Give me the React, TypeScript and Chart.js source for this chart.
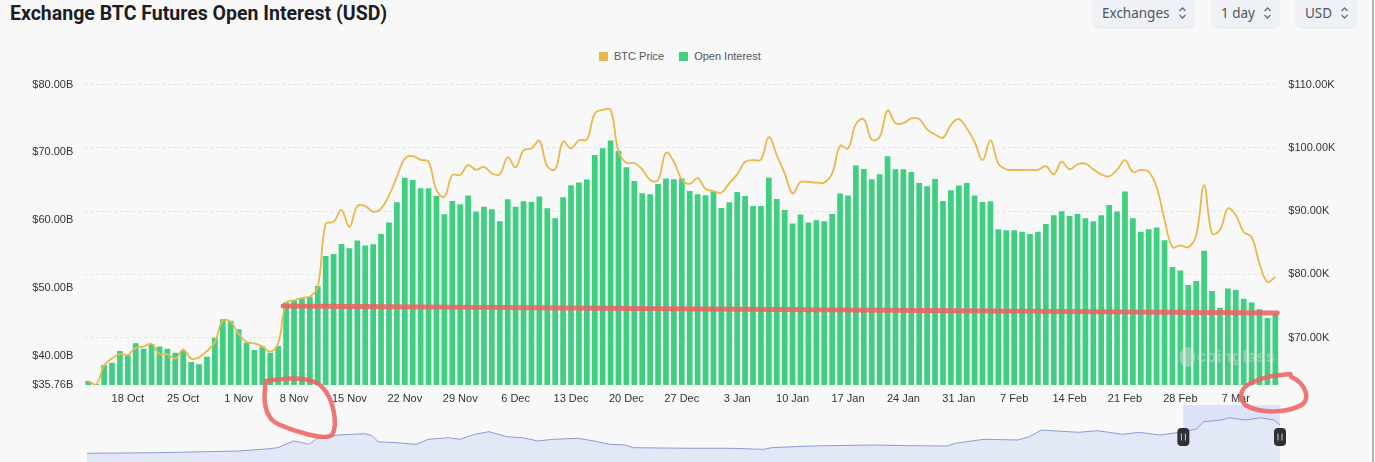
import React, { useEffect, useRef } from "react";
import { Chart, registerables } from "chart.js";

Chart.register(...registerables);

// ---------- data ----------
const FIRST_DAY = [2024, 9, 13]; // 13 Oct 2024
const DAY_COUNT = 151;
const MONTHS = ["Jan", "Feb", "Mar", "Apr", "May", "Jun", "Jul", "Aug", "Sep", "Oct", "Nov", "Dec"];

const OPEN_INTEREST_B = [
  36.35, 35.9, 38.71, 39.05, 40.77, 40.13, 41.9, 41.11, 41.8, 41.41,
  41.11, 40.52, 40.82, 39.15, 38.8, 39.93, 42.73, 45.43, 45.23, 43.96,
  41.99, 40.91, 41.41, 40.52, 41.5, 47.89, 48.18, 48.52, 48.77, 50.34,
  54.76, 55.05, 56.53, 55.89, 57.02, 56.28, 56.48, 58.0, 59.67, 62.66,
  66.29, 65.95, 64.72, 64.72, 63.6, 60.89, 62.86, 62.37, 63.65, 61.29,
  62.02, 61.63, 59.86, 63.1, 62.02, 62.81, 62.71, 63.5, 61.78, 60.31,
  63.4, 65.17, 65.56, 66.0, 69.63, 70.61, 71.74, 70.22, 67.82, 65.8,
  63.99, 63.84, 65.36, 66.15, 66.05, 66.15, 64.33, 63.84, 63.7, 64.23,
  61.83, 62.66, 64.18, 63.6, 62.12, 62.12, 66.29, 63.15, 61.53, 59.52,
  60.85, 59.67, 60.01, 59.86, 60.94, 63.94, 63.65, 68.06, 67.57, 66.05,
  66.79, 69.44, 67.52, 67.52, 67.13, 65.51, 65.02, 66.1, 62.86, 64.43,
  65.12, 65.51, 63.65, 62.71, 62.81, 58.68, 58.54, 58.54, 58.34, 58.0,
  58.34, 59.47, 60.75, 61.34, 60.65, 60.94, 60.31, 59.86, 60.75, 62.27,
  61.29, 64.23, 60.31, 58.34, 58.68, 58.93, 57.06, 53.14, 52.6, 50.49,
  51.08, 55.54, 49.6, 47.15, 49.95, 49.75, 48.47, 47.89, 46.9, 45.63,
  46.22,
];

const BTC_PRICE_K = [
  63.1, 62.6, 65.6, 66.7, 67.4, 67.3, 68.4, 68.6, 69.0, 67.4,
  67.4, 66.7, 68.1, 66.7, 66.9, 67.9, 69.3, 72.7, 72.5, 70.6,
  69.3, 69.1, 68.6, 67.8, 69.1, 75.5, 75.9, 76.3, 76.5, 78.0,
  88.0, 88.3, 90.2, 87.5, 90.8, 90.8, 89.9, 90.4, 92.5, 95.4,
  98.3, 98.7, 98.1, 97.8, 93.3, 92.25, 95.7, 95.7, 97.3, 96.5,
  97.0, 95.95, 95.8, 98.5, 96.9, 99.6, 99.9, 101.1, 97.1, 96.6,
  101.0, 99.9, 101.2, 101.3, 105.4, 106.0, 106.0, 99.4, 97.6, 97.6,
  96.6, 94.9, 94.9, 99.2, 97.8, 95.0, 94.3, 95.2, 93.5, 93.15,
  92.9, 94.4, 95.8, 97.8, 98.05, 98.15, 101.7, 98.85, 95.95, 92.8,
  94.6, 94.6, 94.5, 94.5, 95.95, 100.3, 99.9, 103.75, 104.5, 101.3,
  101.7, 105.9, 103.9, 103.9, 104.65, 104.55, 102.9, 102.1, 101.6, 103.6,
  104.55, 103.1, 100.95, 98.05, 101.2, 97.5, 96.6, 96.5, 96.5, 96.5,
  96.5, 97.1, 95.8, 97.8, 96.6, 97.4, 97.5, 96.6, 95.8, 95.5,
  96.5, 98.05, 96.2, 96.5, 96.2, 93.8, 88.6, 84.3, 84.6, 84.3,
  86.2, 94.1, 86.5, 87.0, 90.4, 89.4, 86.7, 85.9, 81.7, 78.8,
  79.6,
];

const OI_TICKS = [35.76, 40, 50, 60, 70, 80];
const PRICE_TICKS = [70, 80, 90, 100, 110];
const OI_RANGE = [35.76, 80];
const PRICE_RANGE = [62.53, 110];
const X_TICK_FIRST = 5; // 18 Oct
const X_TICK_STEP = 7;

// navigator (whole-history overview): position in % of range, and level
const NAV_POS = [
  0, 6.0, 12.7, 15.0, 16.0, 17.3, 17.9, 18.6, 19.3, 21.0,
  22.3, 23.3, 23.9, 24.4, 25.9, 27.6, 28.6, 30.3, 31.3, 32.5,
  33.7, 35.2, 36.5, 37.8, 39.1, 41.2, 42.5, 43.8, 45.1, 45.8,
  50.5, 54.0, 56.7, 57.4, 60.1, 61.9, 66.0, 69.0, 72.1, 72.8,
  75.2, 78.0, 79.0, 80.0, 81.3, 83.1, 84.7, 86.8, 88.2, 89.9,
  91.6, 93.0, 93.6, 95.1, 95.7, 97.1, 98.4, 99.5, 100,
];
const NAV_LEVELS = [
  8.7, 9.3, 11, 13, 14.3, 21, 19.7, 17.7, 23.7, 27,
  27.7, 28.3, 26.3, 20.3, 19.3, 17.7, 22.7, 24.3, 22.7, 27.7,
  30.3, 25.3, 24.3, 21, 22.7, 23.7, 21, 17.7, 17, 14.3,
  13.7, 13.7, 12.7, 14.3, 15.7, 16.3, 17, 16.3, 16, 18.7,
  22.7, 22, 25.3, 32, 31, 29.7, 31.3, 27.7, 29.7, 27,
  29.7, 33, 40.3, 42, 44.3, 42, 44.3, 42, 37,
];
const NAV_WINDOW = [91.9, 100];

// hand-drawn annotation line (OI level, start index -> end)
const MARK_LINE_OI = [47.4, 46.35];
const MARK_LINE_FROM = 25;

const GREEN = "#3fcf80";
const GOLD = "#e8b84a";
const AXIS_FONT = "'Liberation Sans', Arial, sans-serif";

function makeLabels(): string[] {
  const out: string[] = [];
  for (let i = 0; i < DAY_COUNT; i++) {
    const d = new Date(FIRST_DAY[0], FIRST_DAY[1], FIRST_DAY[2] + i);
    out.push(`${d.getDate()} ${MONTHS[d.getMonth()]}`);
  }
  return out;
}
const DATES = makeLabels();

// ---------- plugins ----------
const annotationPlugin = {
  id: "handMarks",
  afterDatasetsDraw(chart: any) {
    const { ctx, chartArea } = chart;
    // watermark
    ctx.save();
    ctx.fillStyle = "rgba(215,215,215,0.5)";
    ctx.font = "bold 17px 'Liberation Sans', Arial, sans-serif";
    ctx.textBaseline = "middle";
    ctx.textAlign = "right";
    const wx = chartArea.right - 4;
    const wy = chartArea.bottom - 28;
    ctx.fillText("coinglass", wx, wy);
    ctx.beginPath();
    ctx.ellipse(wx - 88, wy, 8, 10, 0, 0, Math.PI * 2);
    ctx.fill();
    ctx.restore();
  },
  afterDraw(chart: any) {
    const { ctx, chartArea } = chart;
    const x = chart.scales.x;
    const y = chart.scales.yOI;
    ctx.save();
    ctx.strokeStyle = "rgba(238,98,98,0.88)";
    ctx.lineCap = "round";
    ctx.lineJoin = "round";
    // horizontal line
    ctx.lineWidth = 5;
    const last = DAY_COUNT - 1;
    const x0 = x.getPixelForValue(MARK_LINE_FROM) - 3;
    const x1 = x.getPixelForValue(last) + 2;
    ctx.beginPath();
    ctx.moveTo(x0, y.getPixelForValue(MARK_LINE_OI[0]));
    ctx.lineTo(x1, y.getPixelForValue(MARK_LINE_OI[1]));
    ctx.stroke();
    // loop round "8 Nov"
    const b = chartArea.bottom;
    const cx = x.getPixelForValue(MARK_LINE_FROM + 1);
    ctx.lineWidth = 4.5;
    ctx.beginPath();
    ctx.moveTo(cx - 28, b - 4);
    ctx.bezierCurveTo(cx - 5, b - 8, cx + 20, b - 8, cx + 28, b + 2);
    ctx.bezierCurveTo(cx + 40, b + 14, cx + 44, b + 40, cx + 38, b + 50);
    ctx.bezierCurveTo(cx + 30, b + 56, cx + 0, b + 46, cx - 14, b + 40);
    ctx.bezierCurveTo(cx - 31, b + 34, cx - 31, b + 12, cx - 28, b - 4);
    ctx.stroke();
    // loop at the end
    const ex = x.getPixelForValue(last);
    ctx.beginPath();
    ctx.moveTo(ex - 24, b - 2);
    ctx.bezierCurveTo(ex - 10, b - 10, ex + 5, b - 10, ex + 15, b - 11);
    ctx.lineTo(ex + 16, b - 8);
    ctx.bezierCurveTo(ex + 30, b - 2, ex + 36, b + 14, ex + 26, b + 20);
    ctx.bezierCurveTo(ex + 14, b + 27, ex - 14, b + 30, ex - 30, b + 20);
    ctx.bezierCurveTo(ex - 38, b + 12, ex - 34, b + 2, ex - 24, b - 2);
    ctx.stroke();
    ctx.restore();
  },
};

const navPlugin = {
  id: "navWindow",
  beforeDatasetsDraw(chart: any) {
    const { ctx } = chart;
    const x = chart.scales.x;
    ctx.save();
    ctx.fillStyle = "rgba(196,208,250,0.55)";
    const a = x.getPixelForValue(NAV_WINDOW[0]);
    const c = x.getPixelForValue(NAV_WINDOW[1]);
    ctx.fillRect(a, 0, c - a, chart.height);
    ctx.restore();
  },
  afterDatasetsDraw(chart: any) {
    const { ctx } = chart;
    const x = chart.scales.x;
    ctx.save();
    for (const v of NAV_WINDOW) {
      const px = x.getPixelForValue(v);
      const py = 32;
      ctx.fillStyle = "#2e3036";
      ctx.beginPath();
      (ctx as any).roundRect(px - 6, py - 9, 12, 18, 4);
      ctx.fill();
      ctx.fillStyle = "#c8c8c8";
      ctx.fillRect(px - 2.5, py - 3.5, 1, 7);
      ctx.fillRect(px + 1.5, py - 3.5, 1, 7);
    }
    ctx.restore();
  },
};

// ---------- component ----------
function Chevron() {
  return (
    <svg width="9" height="14" viewBox="0 0 9 14" style={{ marginLeft: 8 }}>
      <path d="M1.5 5 L4.5 2 L7.5 5" fill="none" stroke="#6b7078" strokeWidth="1.3" />
      <path d="M1.5 9 L4.5 12 L7.5 9" fill="none" stroke="#6b7078" strokeWidth="1.3" />
    </svg>
  );
}

function Selector({ left, width, text }: { left: number; width: number; text: string }) {
  return (
    <div
      style={{
        position: "absolute",
        left,
        top: -4,
        width,
        height: 31,
        background: "#eef1f5",
        borderRadius: 6,
        boxShadow: "0 1px 2px rgba(0,0,0,0.08)",
        display: "flex",
        alignItems: "center",
        paddingTop: 2,
        boxSizing: "border-box",
        paddingLeft: 9,
        fontFamily: "'Noto Sans', sans-serif",
        fontSize: 13.5,
        color: "#50555d",
      }}
    >
      <span>{text}</span>
      <Chevron />
    </div>
  );
}

export default function App() {
  const mainRef = useRef<HTMLCanvasElement>(null);
  const navRef = useRef<HTMLCanvasElement>(null);

  useEffect(() => {
    const main = new Chart(mainRef.current as HTMLCanvasElement, {
      type: "bar",
      data: {
        labels: DATES,
        datasets: [
          {
            type: "line",
            label: "BTC Price",
            data: BTC_PRICE_K,
            yAxisID: "yPrice",
            borderColor: GOLD,
            backgroundColor: GOLD,
            borderWidth: 1.8,
            pointRadius: 0,
            tension: 0.4,
            order: 0,
          } as any,
          {
            type: "bar",
            label: "Open Interest",
            data: OPEN_INTEREST_B,
            yAxisID: "yOI",
            backgroundColor: GREEN,
            categoryPercentage: 1,
            barPercentage: 0.72,
            order: 1,
          } as any,
        ],
      },
      options: {
        animation: false,
        responsive: false,
        devicePixelRatio: 1,
        layout: { padding: { top: 84.5, bottom: 50, left: 0, right: 0 } },
        plugins: { legend: { display: false }, tooltip: { enabled: false } },
        scales: {
          x: {
            grid: { display: false, drawTicks: false },
            border: { display: false },
            ticks: {
              autoSkip: false,
              maxRotation: 0,
              minRotation: 0,
              padding: 7,
              color: "#333",
              font: { size: 11, family: AXIS_FONT },
              callback: function (this: any, value: any, index: number) {
                return index >= X_TICK_FIRST && (index - X_TICK_FIRST) % X_TICK_STEP === 0
                  ? this.getLabelForValue(value)
                  : "";
              },
            },
            afterFit: (s: any) => {
              s.height = 27;
            },
          },
          yOI: {
            position: "left",
            min: OI_RANGE[0],
            max: OI_RANGE[1],
            grid: { display: false, drawTicks: false },
            border: { display: false },
            ticks: {
              padding: 11,
              color: "#333",
              font: { size: 11, family: AXIS_FONT },
              callback: (v: any) => "$" + Number(v).toFixed(2) + "B",
            },
            afterBuildTicks: (axis: any) => {
              axis.ticks = OI_TICKS.map((v) => ({ value: v }));
            },
            afterFit: (s: any) => {
              s.width = 84.3;
            },
          },
          yPrice: {
            position: "right",
            min: PRICE_RANGE[0],
            max: PRICE_RANGE[1],
            grid: { color: "#e3e3e3", drawTicks: false, lineWidth: 1 },
            border: { display: false, dash: [3, 3] },
            ticks: {
              padding: 9,
              color: "#333",
              font: { size: 11, family: AXIS_FONT },
              callback: (v: any) => "$" + Number(v).toFixed(2) + "K",
            },
            afterBuildTicks: (axis: any) => {
              axis.ticks = PRICE_TICKS.map((v) => ({ value: v }));
            },
            afterFit: (s: any) => {
              s.width = 95.7;
            },
          },
        },
      },
      plugins: [annotationPlugin],
    });

    const nav = new Chart(navRef.current as HTMLCanvasElement, {
      type: "line",
      data: {
        datasets: [
          {
            data: NAV_LEVELS.map((v, i) => ({ x: NAV_POS[i], y: v })),
            borderColor: "#8b9ad8",
            borderWidth: 1,
            backgroundColor: "#e3e8f6",
            fill: "start",
            pointRadius: 0,
            tension: 0,
          },
        ],
      },
      options: {
        animation: false,
        responsive: false,
        devicePixelRatio: 1,
        layout: { padding: { left: 7, right: 10, top: 0, bottom: 0 } },
        plugins: { legend: { display: false }, tooltip: { enabled: false } },
        scales: {
          x: { type: "linear", display: false, min: 0, max: 100 },
          y: { display: false, min: 0, max: 57 },
        },
      },
      plugins: [navPlugin],
    });

    return () => {
      main.destroy();
      nav.destroy();
    };
  }, []);

  return (
    <div
      style={{
        position: "absolute",
        left: 0,
        top: 0,
        width: 1375,
        height: 462,
        background: "#ffffff",
        overflow: "hidden",
      }}
    >
      <div style={{ position: "absolute", left: 0, top: 0, width: 1372, height: 462, background: "#f8f8f8" }} />
      <div style={{ position: "absolute", left: 1372, top: 0, width: 2, height: 462, background: "#b4b4b4" }} />
      <div
        style={{
          position: "absolute",
          left: 10,
          top: 0,
          fontFamily: "Roboto, 'Noto Sans', sans-serif",
          fontWeight: 700,
          fontSize: 19.5,
          lineHeight: "28px",
          color: "#1c1d21",
          letterSpacing: 0,
          whiteSpace: "nowrap",
        }}
      >
        Exchange BTC Futures Open Interest (USD)
      </div>
      <Selector left={1093} width={101} text="Exchanges" />
      <Selector left={1212} width={67} text="1 day" />
      <Selector left={1296} width={61} text="USD" />

      <div
        style={{
          position: "absolute",
          left: 599,
          top: 50,
          display: "flex",
          alignItems: "center",
          fontFamily: AXIS_FONT,
          fontSize: 11,
          color: "#555",
          whiteSpace: "nowrap",
        }}
      >
        <span style={{ width: 9, height: 9, background: GOLD, display: "inline-block", marginRight: 6 }} />
        <span style={{ marginRight: 15 }}>BTC Price</span>
        <span style={{ width: 9, height: 9, background: GREEN, display: "inline-block", marginRight: 6 }} />
        <span>Open Interest</span>
      </div>

      <canvas
        ref={navRef}
        width={1210}
        height={57}
        style={{ position: "absolute", left: 80, top: 405, width: 1210, height: 57 }}
      />
      <canvas
        ref={mainRef}
        width={1375}
        height={462}
        style={{ position: "absolute", left: 0, top: 0, width: 1375, height: 462 }}
      />
    </div>
  );
}
